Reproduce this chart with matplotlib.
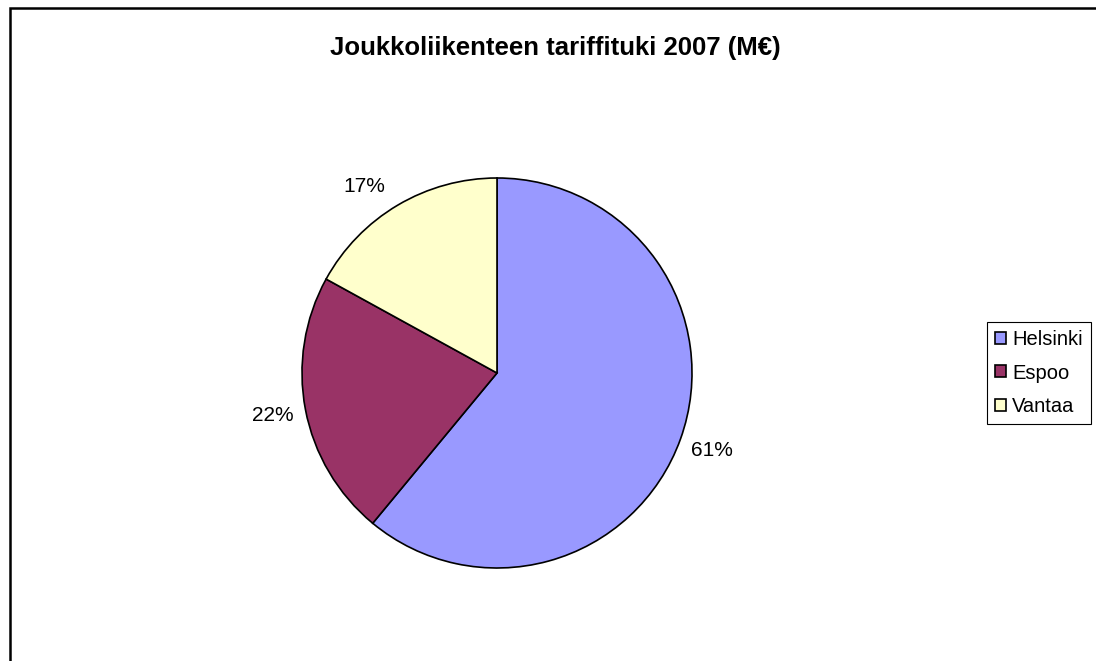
import matplotlib
matplotlib.use("Agg")
import matplotlib.pyplot as plt
from matplotlib.patches import Rectangle

# Datos del gráfico (porcentajes por municipio)
municipios = ["Helsinki", "Espoo", "Vantaa"]
porcentajes = [61, 22, 17]
colores = ["#9999FF", "#993366", "#FFFFCC"]
titulo = "Joukkoliikenteen tariffituki 2007 (M€)"

plt.rcParams["font.family"] = ["Liberation Sans", "DejaVu Sans"]

W, H = 1096, 661
fig = plt.figure(figsize=(W / 100, H / 100), dpi=100)

# Marco exterior (recortado a la derecha y abajo como en la imagen)
fig.patches.append(Rectangle((10 / W, -0.05), 1.1, 1.05 - 8 / H,
                             transform=fig.transFigure, fill=False,
                             edgecolor="black", linewidth=1.8, zorder=5))

# Ejes en píxeles para colocar la tarta
ax = fig.add_axes([0, 0, 1, 1])

wedges, textos, autotextos = ax.pie(
    porcentajes, colors=colores, startangle=90, counterclock=False,
    center=(497, H - 373), radius=195, autopct="%d%%", pctdistance=1.17,
    wedgeprops=dict(edgecolor="black", linewidth=1.2),
    textprops=dict(fontsize=15, color="black"))

# Pequeño ajuste de la etiqueta de Vantaa (como la coloca Excel)
x, y = autotextos[2].get_position()
autotextos[2].set_position((x - 17, y - 10))

ax.set_xlim(0, W)
ax.set_ylim(0, H)
ax.set_aspect("equal")
ax.axis("off")

fig.text(555 / W, 1 - 48 / H, titulo, ha="center", va="center",
         fontsize=18.5, fontweight="bold")

leg = fig.legend(wedges, municipios, loc="upper left",
                 bbox_to_anchor=(987 / W, 1 - 322 / H), borderaxespad=0,
                 fontsize=14.5, handlelength=0.55, handleheight=0.55,
                 handletextpad=0.3, labelspacing=0.72, borderpad=0.4,
                 fancybox=False, frameon=True, framealpha=1)
leg.get_frame().set_edgecolor("black")
leg.get_frame().set_linewidth(0.8)

fig.savefig("out.png", dpi=100)
